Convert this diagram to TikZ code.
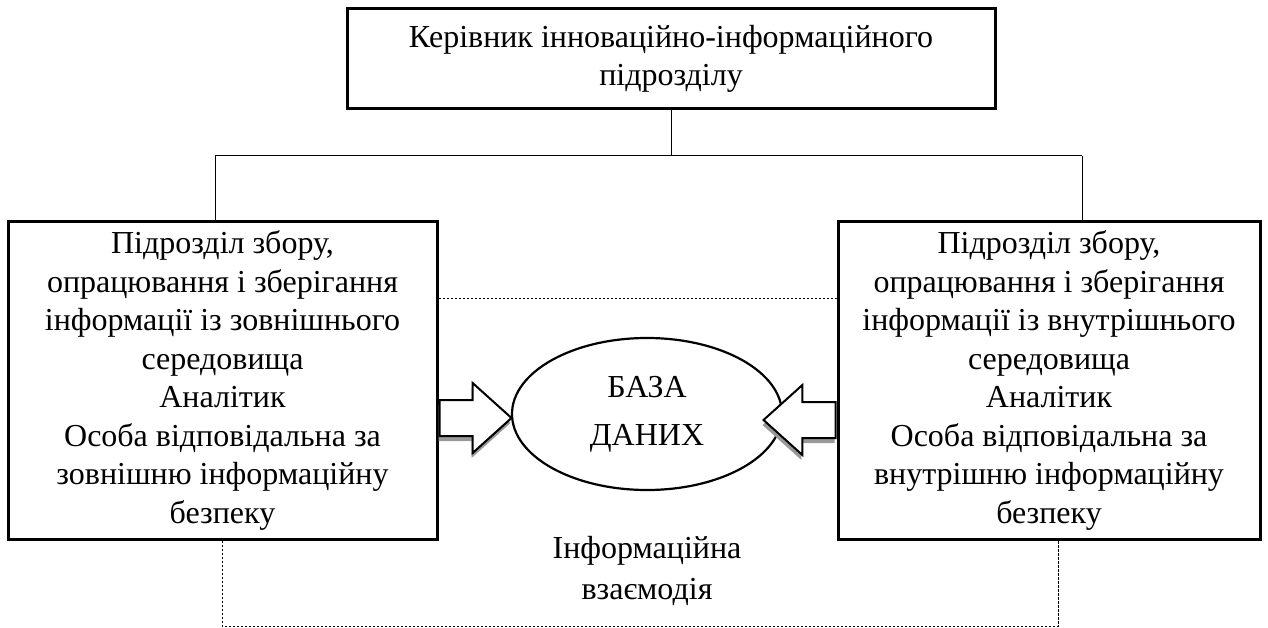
\documentclass[tikz,border=0pt]{standalone}
\usepackage{fontspec}
\setmainfont{Liberation Serif}
\usepackage{tikz}
\usetikzlibrary{shapes.geometric,shapes.arrows,shadows}

\begin{document}
\begin{tikzpicture}[x=1pt, y=-1pt,
  box/.style={draw, line width=3pt, align=center, inner sep=0pt,
              font=\fontsize{32}{38.5}\selectfont},
  base/.style={draw, ellipse, line width=2.2pt, align=center,
               minimum width=270pt, minimum height=152pt,
               font=\fontsize{32}{48}\selectfont},
  link/.style={line width=1pt},
  dotline/.style={line width=1pt, dash pattern=on 2.5pt off 1.5pt},
  blockarr/.style={draw, fill=white, single arrow, line width=2pt,
                   minimum height=72pt, minimum width=70pt,
                   single arrow head extend=17pt, inner sep=17pt,
                   single arrow tip angle=84,
                   drop shadow={shadow xshift=-1pt, shadow yshift=-5pt,
                                fill=black!40, opacity=1}},
  txt/.style={align=center, font=\fontsize{32}{41}\selectfont}
]
  \useasboundingbox (0,0) rectangle (1268,628);
  % Boxes
  \node[box, minimum width=648pt, minimum height=100pt] (head) at (671,59)
    {Керівник інноваційно-інформаційного\\підрозділу};
  \node[box, minimum width=429pt, minimum height=317pt] (ext) at (222.5,380.5)
    {Підрозділ збору,\\опрацювання і зберігання\\інформації із зовнішнього\\середовища\\Аналітик\\Особа відповідальна за\\зовнішню інформаційну\\безпеку};
  \node[box, minimum width=422pt, minimum height=317pt] (int) at (1049,380.5)
    {Підрозділ збору,\\опрацювання і зберігання\\інформації із внутрішнього\\середовища\\Аналітик\\Особа відповідальна за\\внутрішню інформаційну\\безпеку};
  \node[base] (db) at (647,414) {БАЗА\\ДАНИХ};
  \node[txt] (inter) at (647,571) {Інформаційна\\взаємодія};
  % Tree links
  \coordinate (lj) at (215,156);
  \coordinate (rj) at (1082,156);
  \draw[link] (head.south) -- (head.south |- lj);
  \draw[link] (lj) -- (rj);
  \draw[link] (lj) -- (lj |- ext.north);
  \draw[link] (rj) -- (rj |- int.north);
  % Dotted frame
  \draw[dotline] (ext.east |- 0,298) -- (int.west |- 0,298);
  \coordinate (bl) at (222,626);
  \coordinate (br) at (1058,626);
  \draw[dotline] (bl |- ext.south) -- (bl) -- (br) -- (br |- int.south);
  % Block arrows
  \node[blockarr, anchor=tail] (la) at (ext.east |- 0,418) {};
  \node[blockarr, anchor=tail, shape border rotate=180] (ra) at (int.west |- 0,420) {};
\end{tikzpicture}
\end{document}
